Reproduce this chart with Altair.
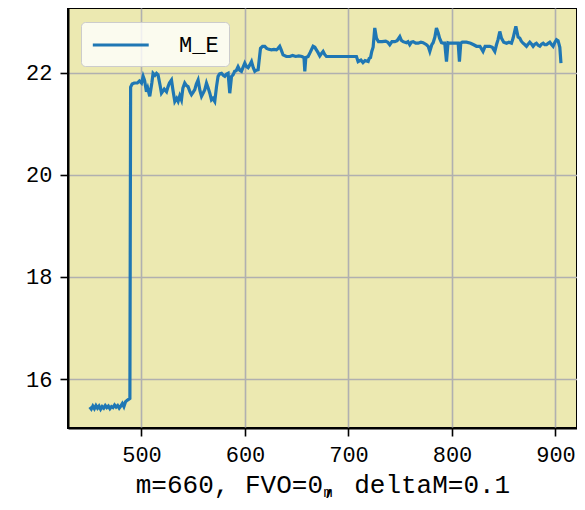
import altair as alt
import pandas as pd

x_vals = [450, 451.5, 453, 454.5, 456, 457.5, 459, 460.5, 462, 463.5, 465, 466.5, 468, 469.5, 471, 472.5,
          474, 475.5, 477, 478.5, 480, 481.5, 483, 484.5, 486, 487.5, 488.8, 489.5, 491, 493, 496, 498, 500,
          501.6, 503, 504.8, 506, 508, 510, 511.2, 513, 514.5, 516, 518, 519.3, 522, 524.2, 525.7, 527, 529,
          530.5, 532.2, 534, 535.4, 537, 538.6, 540, 541.8, 543.5, 545, 547, 548.3, 550, 551.5, 553, 554.7,
          556.5, 558, 560, 561.2, 562.8, 564.5, 566, 567.6, 569, 570.8, 572.5, 574, 575.5, 577.3, 579, 580.5,
          582, 583.7, 585.3, 587, 588.5, 590, 591.5, 593.3, 595, 596.6, 598, 599.8, 601.5, 603, 604.5, 606.3,
          608, 609.5, 611, 612.7, 614, 615, 617, 619.1, 621, 623, 625.6, 628, 630.4, 632, 633.6, 635, 636.8,
          640, 643.3, 646, 649, 652, 655, 657, 657.8, 658.8, 661, 663, 665.8, 667.5, 669, 670.5, 672.3, 674,
          675.5, 677, 678.7, 682, 690, 700, 707.7, 709.3, 712, 714, 716, 719, 720, 721.3, 722.5, 723.8, 725.4,
          727, 729, 732.5, 736, 738, 739.9, 742, 744.7, 747, 749.6, 751, 752.8, 756, 757.5, 759.2, 760.8,
          762.5, 765, 767.3, 770, 772.1, 775.4, 777, 778.6, 780.5, 781.8, 783.5, 785, 786.7, 788, 789.9,
          791.5, 793, 794.7, 796.2, 798, 801, 803.5, 806, 807.2, 808.5, 810, 814, 818, 821, 823.7, 827, 830,
          832, 836.5, 839, 841.4, 843, 844.5, 846.2, 847.8, 850, 852.7, 855, 857.5, 859.1, 861.7, 863.9, 865.5,
          867, 868.7, 870.5, 872, 873.5, 875.2, 877, 878.4, 880, 881.6, 883.3, 884.9, 886.5, 888.1, 889.7,
          891.3, 893, 894.5, 896, 897.7, 899.5, 901, 902.5, 904.2, 905.3]

y_vals = [15.45, 15.41, 15.47, 15.42, 15.48, 15.43, 15.47, 15.41, 15.46, 15.43, 15.48, 15.44, 15.47, 15.42,
          15.46, 15.44, 15.49, 15.45, 15.48, 15.43, 15.47, 15.52, 15.46, 15.55, 15.58, 15.60, 15.62, 21.72,
          21.78, 21.80, 21.80, 21.84, 21.80,
          21.93, 21.85, 21.63, 21.70, 21.54, 21.80, 21.99, 21.95, 21.99, 21.96, 21.75, 21.60, 21.68, 21.63,
          21.73, 21.80, 21.86, 21.65, 21.44, 21.50, 21.44, 21.55, 21.47, 21.70, 21.80, 21.75, 21.73, 21.62,
          21.57, 21.62, 21.67, 21.78, 21.86, 21.65, 21.54, 21.62, 21.67, 21.80, 21.70, 21.60, 21.47, 21.50,
          21.44, 21.73, 21.93, 21.98, 21.99, 21.95, 21.93, 21.97, 21.99, 21.60, 21.93, 21.96, 22.03, 22.04,
          22.12, 22.05, 22.03, 22.10, 22.19, 22.12, 22.10, 22.15, 22.22, 22.10, 22.03, 22.05, 22.06, 22.30,
          22.48, 22.52, 22.52, 22.48, 22.46, 22.45, 22.46, 22.45, 22.48, 22.52, 22.45, 22.35, 22.32, 22.32,
          22.34, 22.32, 22.33, 22.32, 22.30, 22.03, 22.30, 22.32, 22.40, 22.52, 22.50, 22.45, 22.40, 22.33,
          22.38, 22.42, 22.36, 22.32, 22.32, 22.32, 22.32, 22.32, 22.22, 22.25, 22.20, 22.24, 22.22, 22.28,
          22.30, 22.42, 22.50, 22.88, 22.68, 22.61, 22.61, 22.62, 22.60, 22.55, 22.61, 22.61, 22.63, 22.71,
          22.64, 22.61, 22.59, 22.61, 22.55, 22.60, 22.61, 22.58, 22.58, 22.60, 22.59, 22.55, 22.52, 22.42,
          22.55, 22.59, 22.70, 22.88, 22.78, 22.68, 22.59, 22.58, 22.58, 22.22, 22.59, 22.58, 22.58, 22.58,
          22.58, 22.22, 22.58, 22.60, 22.60, 22.58, 22.55, 22.52, 22.52, 22.42, 22.52, 22.52, 22.50, 22.42,
          22.55, 22.65, 22.81, 22.68, 22.60, 22.58, 22.60, 22.58, 22.68, 22.91, 22.70, 22.68, 22.62, 22.58,
          22.55, 22.52, 22.56, 22.60, 22.56, 22.52, 22.56, 22.58, 22.54, 22.52, 22.56, 22.58, 22.55, 22.55,
          22.58, 22.60, 22.56, 22.52, 22.60, 22.65, 22.63, 22.50, 22.19]

series_name = "M_E"
x_ticks = [500, 600, 700, 800, 900]
y_ticks = [16, 18, 20, 22]
x_title = "m=660, FVO=0, deltaM=0.1"
sub_label = ["m"]

df = pd.DataFrame({"x": x_vals, "y": y_vals, "series": [series_name] * len(x_vals)})

FONT = "Liberation Mono"

line = alt.Chart(df).mark_line(strokeWidth=3.2, clip=True).encode(
    x=alt.X("x:Q", scale=alt.Scale(domain=[429, 920.8], nice=False, zero=False),
            axis=alt.Axis(values=x_ticks, title=x_title, format="d")),
    y=alt.Y("y:Q", scale=alt.Scale(domain=[15.04, 23.27], nice=False, zero=False),
            axis=alt.Axis(values=y_ticks, title=None, format="d")),
    color=alt.Color("series:N", scale=alt.Scale(range=["#1f77b4"]),
                    legend=alt.Legend(title=None, orient="none", legendX=13, legendY=14,
                                      symbolType="M-1,0H4", symbolSize=500, symbolStrokeWidth=3.2,
                                      labelOffset=62, labelFontSize=22, labelFont=FONT,
                                      labelColor="black",
                                      padding=10, fillColor="rgba(255,255,255,0.8)",
                                      strokeColor="#cccccc", cornerRadius=4)),
)

sub = alt.Chart(pd.DataFrame({"t": sub_label})).mark_text(
    font=FONT, fontSize=15, color="black", align="center", baseline="middle"
).encode(x=alt.value(260), y=alt.value(484), text="t:N")

chart = alt.layer(line, sub).properties(
    width=509, height=420,
    autosize=alt.AutoSizeParams(type="none"),
    padding={"left": 60, "top": 0, "right": 0, "bottom": 73},
).configure_view(
    fill="#ECE9B1", stroke="black", strokeWidth=2
).configure_axis(
    domainColor="black", domainWidth=2, tickColor="black", tickWidth=1.6, tickSize=8,
    labelFont=FONT, labelFontSize=22, labelColor="black",
    titleFont=FONT, titleFontSize=26, titleColor="black", titleFontWeight="normal",
    gridColor="#b0b0b0", gridWidth=1.6, labelPadding=8,
).configure_axisX(
    labelPadding=8, titlePadding=6
).configure_axisY(
    labelPadding=8
)

chart.save("out.html", embed_options={"renderer": "svg", "actions": False})
